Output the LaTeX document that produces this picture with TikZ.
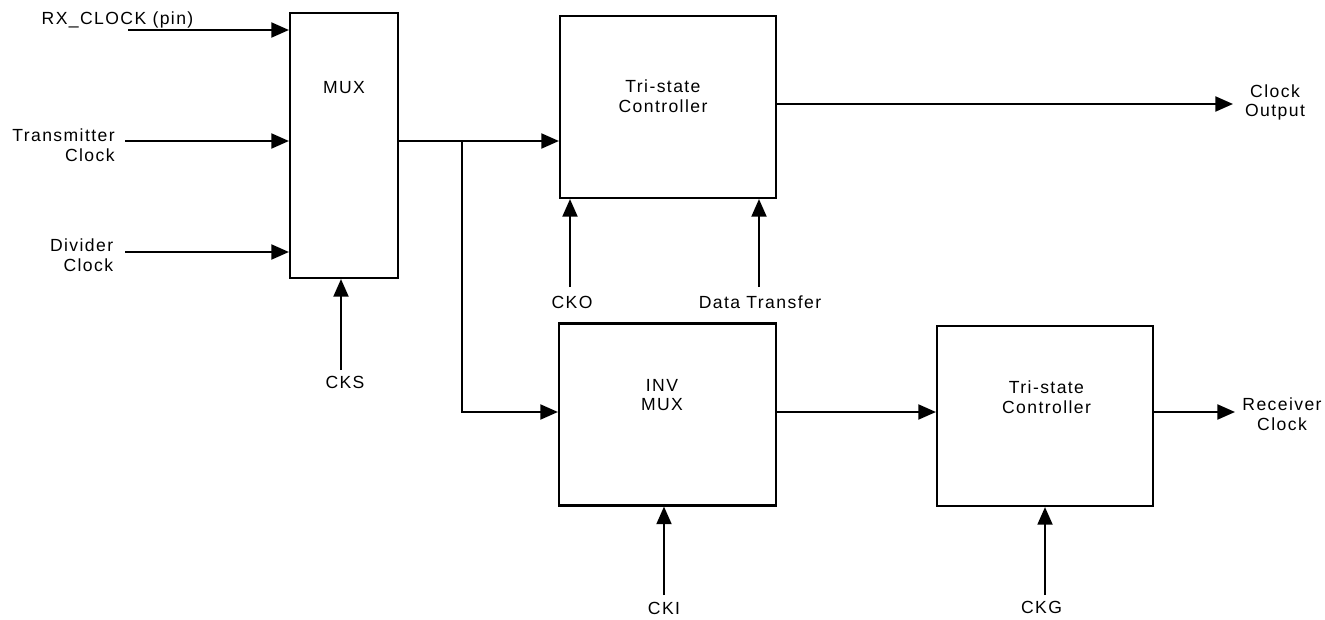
\documentclass[tikz,border=0pt]{standalone}
\usepackage{fontspec}
\setmainfont{Liberation Sans}[LetterSpace=8]
\usetikzlibrary{arrows.meta}

\begin{document}
\begin{tikzpicture}[every node/.style={font=\fontsize{10}{11.3}\selectfont, inner sep=0pt}, >={Triangle[length=10pt, width=8.5pt]},
	block/.style={draw, line width=1.2pt, minimum width=4.32cm, minimum height=3.64cm},
	sig/.style={->, line width=1.2pt}]
	\useasboundingbox (0,0) rectangle (26.5,-12.38);
	% blocks
	\node[block, minimum width=2.16cm, minimum height=5.3cm] (mux) at (6.88,-2.91) {};
	\node[block] (tsout) at (13.36,-2.14) {};
	\node[block, minimum width=4.34cm] (invmux) at (13.35,-8.29) {};
	\node[block, minimum height=3.6cm] (tsrx) at (20.9,-8.32) {};
	\node (muxtxt) at (6.88,-1.76) {MUX};
	\node[align=center] (tsouttxt) at (13.26,-1.92) {Tri-state\\Controller};
	\node[align=center] (invmuxtxt) at (13.24,-7.9) {INV\\MUX};
	\node[align=center] (tsrxtxt) at (20.93,-7.94) {Tri-state\\Controller};
	% signal names
	\node (rxpin) at (2.35,-0.4) {RX\_CLOCK (pin)};
	\node[anchor=east, align=right] (txclk) at (2.3,-2.9) {Transmitter\\Clock};
	\node[anchor=east, align=right] (divclk) at (2.27,-5.1) {Divider\\Clock};
	\node (cks) at (6.9,-7.64) {CKS};
	\node (cko) at (11.44,-6.04) {CKO};
	\node (dtr) at (15.2,-6.04) {Data Transfer};
	\node (cki) at (13.28,-12.17) {CKI};
	\node (ckg) at (20.83,-12.15) {CKG};
	\node[align=center] (clkout) at (25.5,-2.05) {Clock\\Output};
	\node[align=center] (rxclk) at (25.64,-8.28) {Receiver\\Clock};
	% free ends
	\coordinate (rxin) at (2.56,-0.6);
	\coordinate (txin) at (2.5,-2.82);
	\coordinate (divin) at (2.5,-5.04);
	\coordinate (ckoin) at (11.4,-5.74);
	\coordinate (dtrin) at (15.18,-5.74);
	\coordinate (cksin) at (6.82,-7.4);
	\coordinate (ckiin) at (13.28,-11.9);
	\coordinate (ckgin) at (20.9,-11.9);
	\coordinate (split) at (9.24,-2.82);
	\coordinate (outend) at (24.66,-2.08);
	\coordinate (rxend) at (24.7,-8.24);
	% connections
	\draw[sig] (rxin) -- (rxin -| mux.west);
	\draw[sig] (txin) -- (txin -| mux.west);
	\draw[sig] (divin) -- (divin -| mux.west);
	\draw[sig] (cksin) -- (cksin |- mux.south);
	\draw[sig] (split -| mux.east) -- (split -| tsout.west);
	\draw[sig] (split) |- (rxend -| invmux.west);
	\draw[sig] (ckoin) -- (ckoin |- tsout.south);
	\draw[sig] (dtrin) -- (dtrin |- tsout.south);
	\draw[sig] (outend -| tsout.east) -- (outend);
	\draw[sig] (ckiin) -- (ckiin |- invmux.south);
	\draw[sig] (rxend -| invmux.east) -- (rxend -| tsrx.west);
	\draw[sig] (ckgin) -- (ckgin |- tsrx.south);
	\draw[sig] (rxend -| tsrx.east) -- (rxend);
\end{tikzpicture}
\end{document}
